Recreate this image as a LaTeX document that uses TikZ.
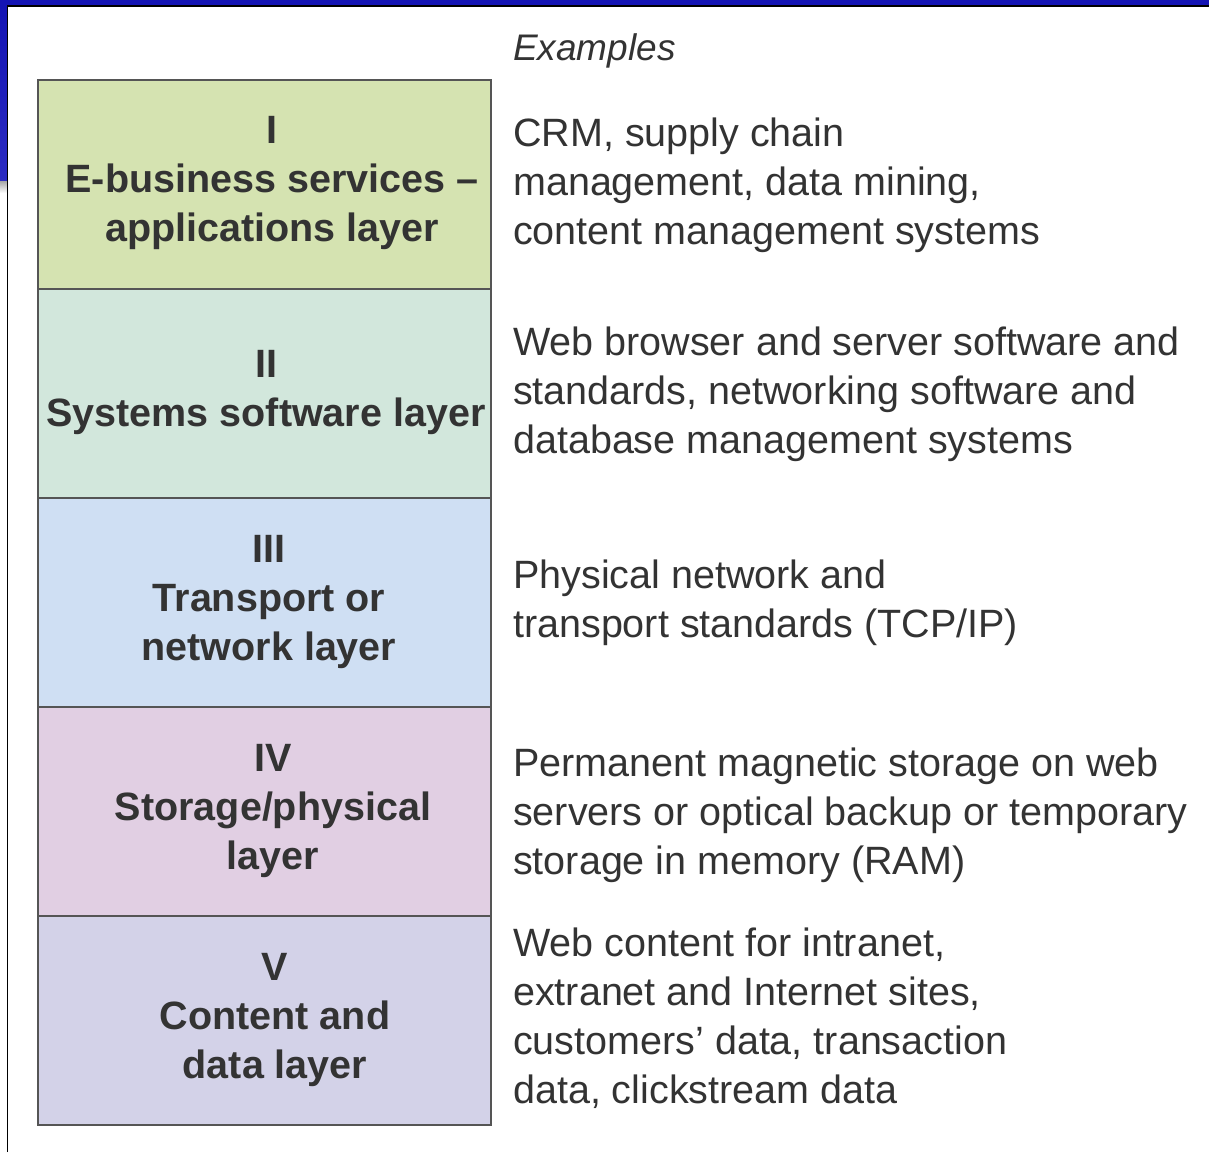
\documentclass[tikz,border=0pt]{standalone}
\usepackage{fontspec}
\setmainfont{Liberation Sans}
\usetikzlibrary{positioning}

\definecolor{frameblue}{HTML}{1414B4}
\definecolor{frameblueb}{HTML}{2C2CC2}
\definecolor{txt}{HTML}{333333}
\definecolor{edge}{HTML}{555555}
\definecolor{cI}{HTML}{D5E3B1}
\definecolor{cII}{HTML}{D2E7DC}
\definecolor{cIII}{HTML}{CFDFF3}
\definecolor{cIV}{HTML}{E1CFE3}
\definecolor{cV}{HTML}{D3D2E8}

\tikzset{
  layerbox/.style={draw=edge, line width=2.5pt, minimum width=453pt,
    minimum height=209pt, inner sep=0pt, outer sep=0pt},
  layername/.style={anchor=base, inner sep=0pt, text=txt,
    font=\fontsize{39.5}{49}\selectfont\bfseries},
  example/.style={anchor=base west, inner sep=0pt, text=txt,
    font=\fontsize{39.5}{49}\selectfont},
}
\newcommand{\stackc}[1]{\begin{tabular}[t]{@{}c@{}}#1\end{tabular}}
\newcommand{\stackl}[1]{\begin{tabular}[t]{@{}l@{}}#1\end{tabular}}

\begin{document}
\begin{tikzpicture}[x=1pt,y=-1pt]
  \useasboundingbox (0,0) rectangle (1209,1152);
  \fill[white] (0,0) rectangle (1209,1152);

  % window frame
  \fill[frameblue] (0,0) rectangle (1209,5.5);
  \shade[top color=frameblue, bottom color=frameblueb] (0,5) rectangle (7,181);
  \shade[top color=black!35, bottom color=white] (0,181) rectangle (7,193);
  \draw[black, line width=1.5pt] (7.5,1152) -- (7.5,5.8) -- (1209,5.8);

  % layer boxes
  \node[layerbox, fill=cI]   (r1) at (264.5,184.5)  {};
  \node[layerbox, fill=cII]  (r2) at (264.5,393.5)  {};
  \node[layerbox, fill=cIII] (r3) at (264.5,602.5)  {};
  \node[layerbox, fill=cIV]  (r4) at (264.5,811.5)  {};
  \node[layerbox, fill=cV]   (r5) at (264.5,1020.5) {};

  % layer names
  \node[layername] (n1) at (272,143) {\stackc{I\\E-business services --\\applications layer}};
  \node[layername] (n2) at (266,377) {\stackc{II\\Systems software layer}};
  \node[layername] (n3) at (269,562) {\stackc{III\\Transport or\\network layer}};
  \node[layername] (n4) at (273,771) {\stackc{IV\\Storage/physical\\layer}};
  \node[layername] (n5) at (275,980) {\stackc{V\\Content and\\data layer}};

  % examples column
  \node[anchor=base west, inner sep=0pt, text=txt,
        font=\fontsize{37}{45}\selectfont\itshape] (hd) at (513,60) {Examples};
  \node[example] (e1) at (513,146) {\stackl{CRM, supply chain\\management, data mining,\\content management systems}};
  \node[example] (e2) at (513,355) {\stackl{Web browser and server software and\\standards, networking software and\\database management systems}};
  \node[example] (e3) at (513,588) {\stackl{Physical network and\\transport standards (TCP/IP)}};
  \node[example] (e4) at (513,776) {\stackl{Permanent magnetic storage on web\\servers or optical backup or temporary\\storage in memory (RAM)}};
  \node[example] (e5) at (513,956) {\stackl{Web content for intranet,\\extranet and Internet sites,\\customers’ data, transaction\\data, clickstream data}};
\end{tikzpicture}
\end{document}
